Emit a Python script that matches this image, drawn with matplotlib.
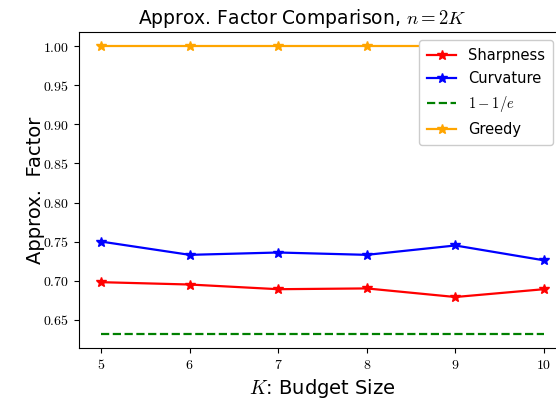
import matplotlib
matplotlib.use("Agg")
import matplotlib.pyplot as plt
from matplotlib.ticker import FuncFormatter

plt.rcParams['mathtext.fontset'] = 'cm'
plt.rcParams['font.family'] = 'DejaVu Sans'

# budget sizes and approximation factors
budget = [5, 6, 7, 8, 9, 10]
sharpness = [0.698, 0.695, 0.689, 0.690, 0.679, 0.689]
curvature = [0.750, 0.733, 0.736, 0.733, 0.745, 0.726]
greedy = [1.0, 1.0, 1.0, 1.0, 1.0, 1.0]
bound = 1 - 1 / 2.718281828459045

fig = plt.figure(figsize=(5.56, 4.03), dpi=100)
ax = fig.add_axes([79 / 556, 1 - 348 / 403, 487 / 556, 316 / 403])

ax.plot(budget, sharpness, color='red', marker='*', markersize=7, lw=1.6, label='Sharpness')
ax.plot(budget, curvature, color='blue', marker='*', markersize=7, lw=1.6, label='Curvature')
ax.plot(budget, [bound] * len(budget), color='green', ls='--', lw=1.6, label='$1-1/e$')
ax.plot(budget, greedy, color='orange', marker='*', markersize=7, lw=1.6, label='Greedy')

ax.set_xlim(4.75, 10.25)
ax.set_ylim(0.6137, 1.0184)
ax.set_xticks(budget)
ax.set_yticks([0.65, 0.70, 0.75, 0.80, 0.85, 0.90, 0.95, 1.00])
ax.xaxis.set_major_formatter(FuncFormatter(lambda v, p: f'${v:.0f}$'))
ax.yaxis.set_major_formatter(FuncFormatter(lambda v, p: f'${v:.2f}$'))
ax.tick_params(labelsize=10)

ax.set_title('Approx. Factor Comparison, $n=2K$', fontsize=13.5, x=0.458)
ax.set_xlabel('$K$: Budget Size', fontsize=14)
ax.set_ylabel('Approx.  Factor', fontsize=14, labelpad=-1)

ax.legend(loc='upper right', bbox_to_anchor=(553 / 556, 1 - 40 / 403),
          bbox_transform=fig.transFigure, fontsize=10.5, framealpha=1.0,
          borderpad=0.55, labelspacing=0.55, borderaxespad=0)

fig.savefig('out.png', dpi=100)
